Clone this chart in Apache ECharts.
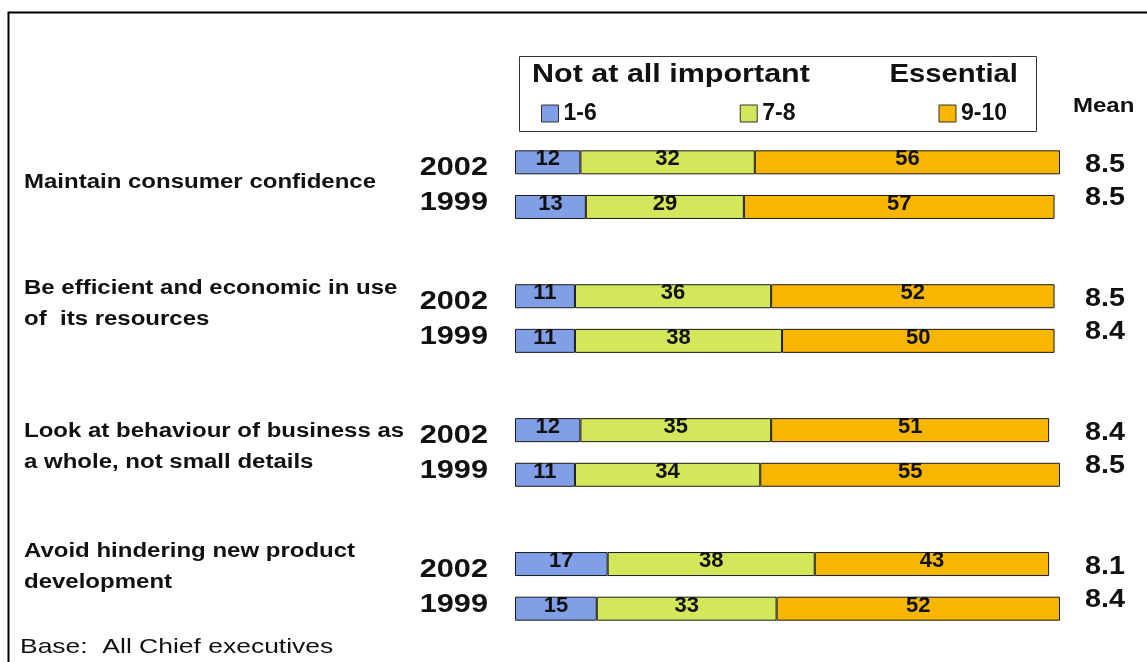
<!DOCTYPE html>
<html>
<head>
<meta charset="utf-8">
<script src="https://cdn.jsdelivr.net/npm/echarts@6/dist/echarts.min.js"></script>
<style>
  html, body { margin: 0; padding: 0; background: #fff; }
  #chart { width: 1147px; height: 662px; }
</style>
</head>
<body>
<div id="chart"></div>
<script>
// Survey statements, one pair of bars (2002, 1999) per statement
const statements = [
  'Maintain consumer confidence',
  'Be efficient and economic in use\nof  its resources',
  'Look at behaviour of business as\na whole, not small details',
  'Avoid hindering new product\ndevelopment'
];
const years = ['2002', '1999'];

// Share of chief executives per rating band, statement by statement, 2002 then 1999
const band1to6  = [12, 13, 11, 11, 12, 11, 17, 15];
const band7to8  = [32, 29, 36, 38, 35, 34, 38, 33];
const band9to10 = [56, 57, 52, 50, 51, 55, 43, 52];
const meanScore = [8.5, 8.5, 8.5, 8.4, 8.4, 8.5, 8.1, 8.4];

const bandNames = ['1-6', '7-8', '9-10'];
const bandColors = ['#809fe6', '#d4e65a', '#f7b700'];

const FONT = '"Liberation Sans", Arial, sans-serif';

// Slots on the category axis: two bars per statement, an empty slot between statements
const slots = [];
statements.forEach((s, g) => {
  years.forEach((y, k) => slots.push({ row: g * 2 + k, year: k }));
  if (g < statements.length - 1) slots.push(null);
});
const slotNames = slots.map((s, i) => 'slot' + i);
const bySlot = arr => slots.map(s => (s ? arr[s.row] : '-'));

const bandSeries = [band1to6, band7to8, band9to10].map((vals, b) => ({
  name: bandNames[b],
  type: 'bar',
  stack: 'share',
  barWidth: 24,
  data: bySlot(vals),
  itemStyle: { color: bandColors[b], borderColor: '#1a1a1a', borderWidth: 1 },
  label: {
    show: true,
    position: 'inside',
    offset: [0, -3],
    color: '#111',
    fontFamily: FONT,
    fontWeight: 'bold',
    fontSize: 22
  },
  emphasis: { disabled: true }
}));

// Year labels to the left of each bar and mean score to the right, placed via the axes
const sideText = {
  type: 'custom',
  silent: true,
  data: slots.map((s, i) => (s ? [0, i] : null)).filter(Boolean),
  encode: { x: 0, y: 1 },
  renderItem(params, api) {
    const slot = api.value(1);
    const s = slots[slot];
    const left = api.coord([0, slot]);
    const right = api.coord([100, slot]);
    const isLatest = s.year === 0;
    return {
      type: 'group',
      children: [
        {
          type: 'text',
          x: left[0] - 27,
          y: left[1] + (isLatest ? 6 : -4),
          scaleX: 1.18,
          style: {
            text: years[s.year],
            font: 'bold 26px ' + FONT,
            fill: '#111',
            textAlign: 'right',
            textVerticalAlign: 'middle'
          }
        },
        {
          type: 'text',
          x: right[0] + 25,
          y: right[1] + (isLatest ? 3 : -9),
          scaleX: 1.15,
          style: {
            text: meanScore[s.row].toFixed(1),
            font: 'bold 25px ' + FONT,
            fill: '#111',
            textAlign: 'left',
            textVerticalAlign: 'middle'
          }
        }
      ]
    };
  }
};

// Statement text, one block per pair of bars
const statementCenters = [182, 304, 447, 567];
const LINE = 31;
const statementText = statements.map((t, i) => ({
  type: 'text',
  left: 24,
  top: statementCenters[i] - (t.split('\n').length * LINE) / 2,
  scaleX: 1.2,
  style: {
    text: t,
    font: 'bold 20px ' + FONT,
    lineHeight: LINE,
    fill: '#111'
  }
}));

const chart = echarts.init(document.getElementById('chart'));
chart.setOption({
  animation: false,
  backgroundColor: '#fff',
  grid: { left: 515, right: 87, top: 140, bottom: 31 },
  xAxis: { type: 'value', min: 0, max: 100, show: false },
  yAxis: {
    type: 'category',
    inverse: true,
    data: slotNames,
    show: false
  },
  legend: {
    data: bandNames,
    left: 541,
    top: 102,
    padding: 0,
    itemGap: 143,
    itemWidth: 17,
    itemHeight: 17,
    icon: 'rect',
    selectedMode: false,
    itemStyle: { borderColor: '#333', borderWidth: 1 },
    textStyle: { fontFamily: FONT, fontWeight: 'bold', fontSize: 23, color: '#111' }
  },
  graphic: [
    // outer frame
    {
      type: 'rect', left: 6, top: 10, z: -1,
      shape: { width: 1160, height: 680 },
      style: { fill: 'none', stroke: '#000', lineWidth: 2 }
    },
    // key box
    {
      type: 'rect', left: 519, top: 56,
      shape: { width: 517, height: 75 },
      style: { fill: '#fff', stroke: '#333', lineWidth: 1 }
    },
    {
      type: 'text', left: 532, top: 63, scaleX: 1.22,
      style: { text: 'Not at all important', font: 'bold 25px ' + FONT, fill: '#111' }
    },
    {
      type: 'text', right: 129, top: 63, scaleX: 1.17,
      style: { text: 'Essential', font: 'bold 25px ' + FONT, fill: '#111' }
    },
    {
      type: 'text', left: 1073, top: 96, scaleX: 1.2,
      style: { text: 'Mean', font: 'bold 20px ' + FONT, fill: '#111' }
    },
    {
      type: 'text', left: 20, top: 637, scaleX: 1.26,
      style: { text: 'Base:  All Chief executives', font: '21px ' + FONT, fill: '#111' }
    }
  ].concat(statementText),
  series: bandSeries.concat([sideText])
});
</script>
</body>
</html>
